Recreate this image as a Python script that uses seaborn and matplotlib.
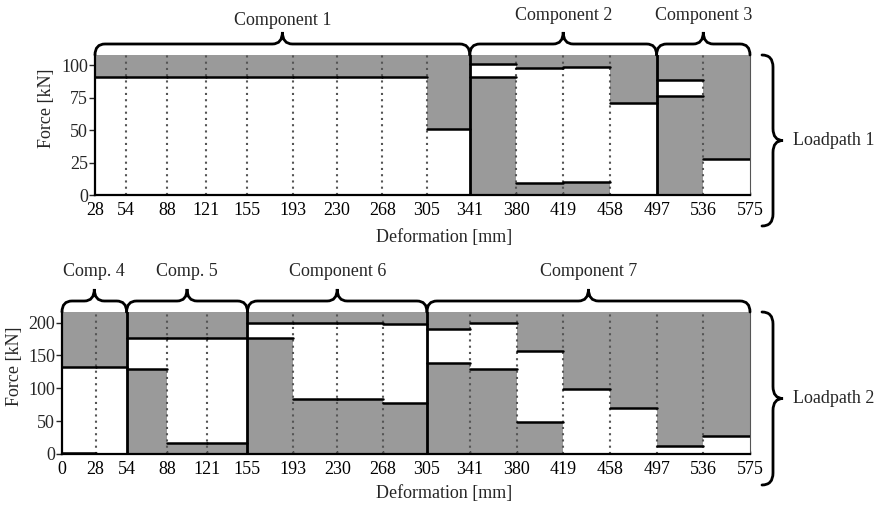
import numpy as np
import pandas as pd
import matplotlib
matplotlib.use("Agg")
import matplotlib.pyplot as plt
import seaborn as sns
from matplotlib.path import Path
from matplotlib.patches import PathPatch
from matplotlib.transforms import IdentityTransform

# ---- data ----
# loadpath 1
ticks_1 = [28, 54, 88, 121, 155, 193, 230, 268, 305, 341, 380, 419, 458, 497, 536, 575]
lower_1 = [0, 0, 0, 0, 0, 0, 0, 0, 0, 91, 9, 10, 0, 76, 0]
upper_1 = [91, 91, 91, 91, 91, 91, 91, 91, 51, 101, 98, 99, 71, 89, 28]
comp_edges_1 = [28, 341, 497, 575]
comp_names_1 = ["Component 1", "Component 2", "Component 3"]
yticks_1 = [0, 25, 50, 75, 100]

# loadpath 2
ticks_2 = [0, 28, 54, 88, 121, 155, 193, 230, 268, 305, 341, 380, 419, 458, 497, 536, 575]
lower_2 = [1, 0, 130, 16, 16, 176, 83, 83, 78, 139, 129, 48, 0, 0, 0, 0]
upper_2 = [132, 132, 177, 177, 177, 200, 200, 200, 197, 190, 200, 157, 99, 70, 12, 27]
comp_edges_2 = [0, 54, 155, 305, 575]
comp_names_2 = ["Comp. 4", "Comp. 5", "Component 6", "Component 7"]
yticks_2 = [0, 50, 100, 150, 200]

sns.set_style("ticks")
plt.rcParams['font.family'] = ['Liberation Serif', 'DejaVu Serif']
plt.rcParams['font.size'] = 13

GRAY = "#9a9a9a"
W, H = 881, 507
fig = plt.figure(figsize=(W / 100, H / 100), dpi=100)


def brace(p0, p1, n, d, t, r):
    # curly brace from p0 to p1 (pixel coords), bulging along unit normal n
    p0 = np.array(p0, float)
    p1 = np.array(p1, float)
    n = np.array(n, float)
    L = np.linalg.norm(p1 - p0)
    u = (p1 - p0) / L
    base = p0 + n * d
    verts = [p0, base, base + u * r, base + u * (L / 2 - r), base + u * L / 2,
             p0 + n * (d + t) + u * L / 2, base + u * L / 2, base + u * (L / 2 + r),
             base + u * (L - r), p1 + n * d, p1]
    codes = [Path.MOVETO, Path.CURVE3, Path.CURVE3, Path.LINETO, Path.CURVE3, Path.CURVE3,
             Path.CURVE3, Path.CURVE3, Path.LINETO, Path.CURVE3, Path.CURVE3]
    fig.add_artist(PathPatch(Path(verts, codes), fill=False, lw=2.0, ec="black",
                             transform=IdentityTransform(), capstyle="round"))


def panel(rect, ticks, lower, upper, edges, names, name_gaps, yticks, ymax, loadpath,
          xlab_xy, ylab_x):
    ax = fig.add_axes(rect)
    ax.set_facecolor(GRAY)
    starts = np.array(ticks[:-1])
    ends = np.array(ticks[1:])
    lo = np.array(lower)
    up = np.array(upper)
    ax.bar(starts, up - lo, bottom=lo, width=ends - starts, align="edge",
           color="white", linewidth=0, zorder=1)

    # dotted guides at the inner ticks, solid lines at component borders
    for x in ticks[1:-1]:
        if x in edges:
            ax.axvline(x, color="black", lw=2.0, zorder=4)
        else:
            ax.axvline(x, color="#555555", lw=1.5, ls=(0, (1, 2)), zorder=2)

    # force levels
    rows = []
    for i in range(len(starts)):
        for kind, v in (("lo", lo[i]), ("up", up[i])):
            if v > 0:
                rows.append({"seg": f"{kind}{i}", "x": starts[i], "force": v})
                rows.append({"seg": f"{kind}{i}", "x": ends[i], "force": v})
    df = pd.DataFrame(rows)
    sns.lineplot(data=df, x="x", y="force", units="seg", estimator=None,
                 color="black", lw=1.8, ax=ax, zorder=3)

    ax.set_xlim(ticks[0], ticks[-1])
    ax.set_ylim(0, ymax)
    ax.set_xticks(ticks)
    ax.set_xticklabels([str(t) for t in ticks])
    ax.set_yticks(yticks)
    ax.tick_params(axis="x", direction="in", length=2, width=1, pad=5, colors="black",
                   labelsize=13)
    ax.tick_params(axis="y", direction="out", length=4, width=1, pad=1, labelsize=13)
    ax.spines["top"].set_visible(False)
    ax.spines["right"].set_color("#555555")
    ax.spines["right"].set_linewidth(0.8)
    for s in ("left", "bottom"):
        ax.spines[s].set_color("black")
        ax.spines[s].set_linewidth(1.6)
        ax.spines[s].set_zorder(5)
    ax.set_xlabel("Deformation [mm]", fontsize=13)
    ax.set_ylabel("Force [kN]", fontsize=13)
    ax.xaxis.set_label_coords(*xlab_xy)
    ax.yaxis.set_label_coords(ylab_x, 0.62)

    fig.canvas.draw()
    x0d, y0d = ax.transAxes.transform((0, 0))
    x1d, y1d = ax.transAxes.transform((1, 1))
    # component braces on top
    for a, b, name, gap in zip(edges[:-1], edges[1:], names, name_gaps):
        xa = ax.transData.transform((a, 0))[0]
        xb = ax.transData.transform((b, 0))[0]
        brace((xa, y1d), (xb, y1d), (0, 1), 11, 12, 10)
        fig.text((xa + xb) / 2 / W, (y1d + 23 + gap) / H, name, ha="center",
                 va="bottom", fontsize=13)
    # loadpath brace on the right
    brace((x1d + 12, y1d), (x1d + 12, y0d - 31), (1, 0), 11, 10, 12)
    fig.text((x1d + 43) / W, ((y1d + y0d - 31) / 2) / H, loadpath, ha="left",
             va="center", fontsize=13)
    return ax


panel([95 / W, 1 - 195 / H, 655 / W, 140 / H], ticks_1, lower_1, upper_1,
      comp_edges_1, comp_names_1, [3, 8, 8], yticks_1, 108, "Loadpath 1",
      (0.533, -0.24), -0.061)
panel([62 / W, 1 - 454 / H, 688 / W, 142 / H], ticks_2, lower_2, upper_2,
      comp_edges_2, comp_names_2, [9, 9, 9, 9], yticks_2, 216, "Loadpath 2",
      (0.555, -0.22), -0.057)

fig.savefig("out.png", dpi=100)
